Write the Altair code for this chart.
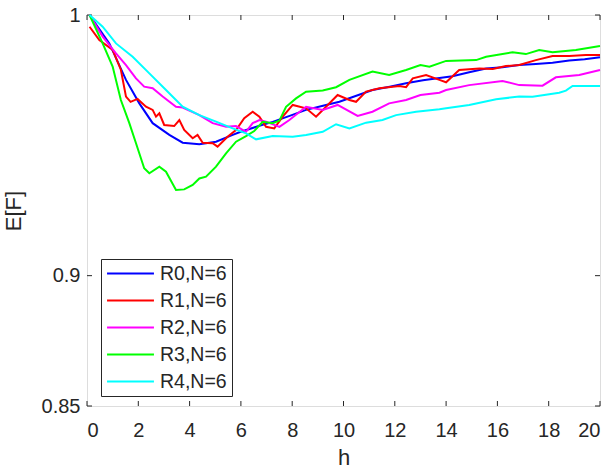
import altair as alt
import pandas as pd

# ---- data ----
series_names = ["R0,N=6", "R1,N=6", "R2,N=6", "R3,N=6", "R4,N=6"]
series_colors = ["#0000FF", "#FF0000", "#FF00FF", "#00FF00", "#00FFFF"]

r0_x = [0.1, 0.87, 1.52, 2.04, 2.56, 3.21, 3.73, 4.38, 5.03, 5.68, 5.94, 6.72, 7.24, 7.9, 8.54, 9.2, 9.84,
        10.5, 11.13, 11.8, 12.44, 13.1, 13.74, 14.25, 14.9, 15.56, 16.2, 16.85, 17.5, 18.15, 18.8, 19.4, 20.0]
r0_y = [1.0, 0.9891, 0.9751, 0.9661, 0.9585, 0.954, 0.951, 0.9504, 0.9514, 0.9540, 0.9550, 0.9575, 0.9590,
        0.9613, 0.9636, 0.9652, 0.9667, 0.9690, 0.9712, 0.9725, 0.9738, 0.9750, 0.9758, 0.9765, 0.9780,
        0.9795, 0.9800, 0.9808, 0.9812, 0.9817, 0.9825, 0.9830, 0.9838]

r1_x = [0.1, 0.48, 1.0, 1.32, 1.52, 1.7, 1.97, 2.3, 2.56, 2.69, 2.82, 3.01, 3.4, 3.6, 3.79, 4.12, 4.31,
        4.51, 4.9, 5.09, 5.48, 5.81, 6.13, 6.46, 6.72, 6.98, 7.3, 7.63, 8.02, 8.54, 8.93, 9.32, 9.77, 10.23,
        10.49, 10.88, 11.4, 12.18, 12.44, 12.7, 13.22, 13.74, 14.0, 14.51, 15.3, 15.82, 16.33, 16.85, 17.5,
        18.15, 18.8, 19.45, 20.0]
r1_y = [0.9955, 0.9904, 0.9866, 0.979, 0.9687, 0.9667, 0.9678, 0.9648, 0.9636, 0.961, 0.9623, 0.9578,
        0.9574, 0.9597, 0.9559, 0.9527, 0.954, 0.951, 0.9508, 0.9495, 0.9533, 0.9559, 0.9604, 0.9629, 0.961,
        0.9571, 0.9565, 0.961, 0.9655, 0.9642, 0.961, 0.9648, 0.9693, 0.9674, 0.9667, 0.9706, 0.9719,
        0.9728, 0.9723, 0.9757, 0.977, 0.9751, 0.9742, 0.9789, 0.9795, 0.9793, 0.9804, 0.9808, 0.9827,
        0.9843, 0.9843, 0.9847, 0.9847]

r2_x = [0.1, 0.61, 1.13, 1.52, 1.91, 2.23, 2.56, 2.95, 3.47, 3.73, 4.38, 4.9, 5.42, 5.81, 6.2, 6.46, 6.72,
        6.98, 7.5, 7.89, 8.54, 9.19, 9.77, 10.55, 11.13, 11.78, 12.44, 13.0, 13.74, 14.0, 14.9, 16.2, 16.85,
        17.76, 18.28, 19.19, 20.0]
r2_y = [1.0, 0.9917, 0.9853, 0.9808, 0.9757, 0.9725, 0.9719, 0.9687, 0.9648, 0.9645, 0.9616, 0.9585,
        0.9571, 0.9574, 0.9552, 0.9585, 0.9597, 0.9591, 0.9571, 0.9597, 0.9648, 0.9636, 0.9655, 0.9613,
        0.9629, 0.9661, 0.9674, 0.9693, 0.9702, 0.9712, 0.9731, 0.9747, 0.9731, 0.9729, 0.9761, 0.977,
        0.9789]

r3_x = [0.1, 0.61, 1.0, 1.32, 1.65, 1.91, 2.23, 2.43, 2.82, 3.08, 3.47, 3.79, 4.12, 4.38, 4.64, 5.03, 5.42,
        5.81, 6.2, 6.52, 6.85, 7.24, 7.5, 7.76, 8.15, 8.54, 9.19, 9.71, 10.23, 11.13, 11.78, 12.44, 13.0,
        13.35, 14.0, 15.17, 15.56, 16.59, 17.11, 17.63, 18.15, 19.06, 20.0]
r3_y = [1.0, 0.9891, 0.9802, 0.9674, 0.9585, 0.9508, 0.9412, 0.9393, 0.9418, 0.9399, 0.9329, 0.9331,
        0.9348, 0.9373, 0.938, 0.9418, 0.9469, 0.9514, 0.9535, 0.9555, 0.959, 0.9585, 0.9595, 0.9648,
        0.968, 0.9706, 0.971, 0.9723, 0.9751, 0.9783, 0.977, 0.9789, 0.9808, 0.9802, 0.9824, 0.9827,
        0.984, 0.9857, 0.985, 0.9866, 0.9857, 0.9866, 0.9881]

r4_x = [0.1, 0.61, 1.13, 1.78, 2.43, 3.08, 3.73, 4.38, 5.03, 5.68, 6.2, 6.59, 7.24, 8.02, 8.54, 9.19, 9.71,
        10.23, 10.88, 11.52, 12.05, 12.83, 13.74, 14.0, 14.9, 15.95, 16.85, 17.37, 18.41, 18.67, 18.93, 20.0]
r4_y = [1.0, 0.9955, 0.9891, 0.984, 0.9776, 0.9712, 0.9648, 0.9616, 0.9591, 0.9565, 0.9546, 0.9523,
        0.9536, 0.9533, 0.954, 0.9552, 0.9581, 0.9565, 0.9587, 0.9597, 0.9616, 0.9629, 0.9638, 0.9642,
        0.9655, 0.9677, 0.9687, 0.9686, 0.9702, 0.971, 0.9728, 0.9728]

x_ticks = [0, 2, 4, 6, 8, 10, 12, 14, 16, 18, 20]
y_ticks = [0.85, 0.9, 1.0]

# ---- build table ----
rows = []
for name, xs, ys in zip(series_names, [r0_x, r1_x, r2_x, r3_x, r4_x], [r0_y, r1_y, r2_y, r3_y, r4_y]):
    for xv, yv in zip(xs, ys):
        rows.append({"h": xv, "E": yv, "series": name})
df = pd.DataFrame(rows)
xt = pd.DataFrame({"t": x_ticks})
yt = pd.DataFrame({"t": y_ticks})

FONT = "Liberation Sans"
W, H = 513, 391
AX = "#262626"

xscale = alt.Scale(domain=[0, 20], nice=False, zero=False)
yscale = alt.Scale(domain=[0.85, 1.0], nice=False, zero=False)

lines = alt.Chart(df).mark_line(strokeWidth=2).encode(
    x=alt.X("h:Q", scale=xscale,
            axis=alt.Axis(values=x_ticks, format="d", title="h", grid=False, ticks=False, domain=False,
                          labelFontSize=20, labelPadding=14, labelColor=AX, labelFont=FONT,
                          titleFontSize=22, titleFontWeight="normal", titleColor=AX, titleFont=FONT,
                          titleX=W / 2, titleY=51, titleBaseline="middle")),
    y=alt.Y("E:Q", scale=yscale,
            axis=alt.Axis(values=y_ticks, format="~g", title="E[F]", grid=False, ticks=False, domain=False,
                          labelFontSize=20, labelPadding=7, labelColor=AX, labelFont=FONT,
                          titleFontSize=22, titleFontWeight="normal", titleColor=AX, titleFont=FONT,
                          titleX=-74, titleY=H / 2, titleAngle=-90, titleAlign="center",
                          titleBaseline="middle")),
    color=alt.Color("series:N",
                    scale=alt.Scale(domain=series_names, range=series_colors),
                    legend=alt.Legend(title=None, orient="none", legendX=14, legendY=244,
                                      symbolType="stroke", symbolSize=2200, symbolStrokeWidth=2,
                                      clipHeight=19,
                                      labelFontSize=19.5, labelFont=FONT, labelColor=AX, labelOffset=5,
                                      rowPadding=7, padding=5, strokeColor=AX, fillColor="white",
                                      labelLimit=300)),
    order=alt.Order("series:N"),
)

tick_len = 5
bt = alt.Chart(xt).mark_rule(color=AX, strokeWidth=1).encode(
    x=alt.X("t:Q", scale=xscale), y=alt.value(H), y2=alt.value(H - tick_len))
tt = alt.Chart(xt).mark_rule(color=AX, strokeWidth=1).encode(
    x=alt.X("t:Q", scale=xscale), y=alt.value(0), y2=alt.value(tick_len))
lt = alt.Chart(yt).mark_rule(color=AX, strokeWidth=1).encode(
    y=alt.Y("t:Q", scale=yscale), x=alt.value(0), x2=alt.value(tick_len))
rt = alt.Chart(yt).mark_rule(color=AX, strokeWidth=1).encode(
    y=alt.Y("t:Q", scale=yscale), x=alt.value(W), x2=alt.value(W - tick_len))

chart = alt.layer(bt, tt, lt, rt, lines).properties(
    width=W, height=H,
    autosize=alt.AutoSizeParams(type="none"),
    padding={"left": 87, "top": 15, "right": 12, "bottom": 66},
).configure_view(stroke="#555555", strokeWidth=1).configure(background="white")

chart.save("out.html", embed_options={"renderer": "svg", "actions": False})
